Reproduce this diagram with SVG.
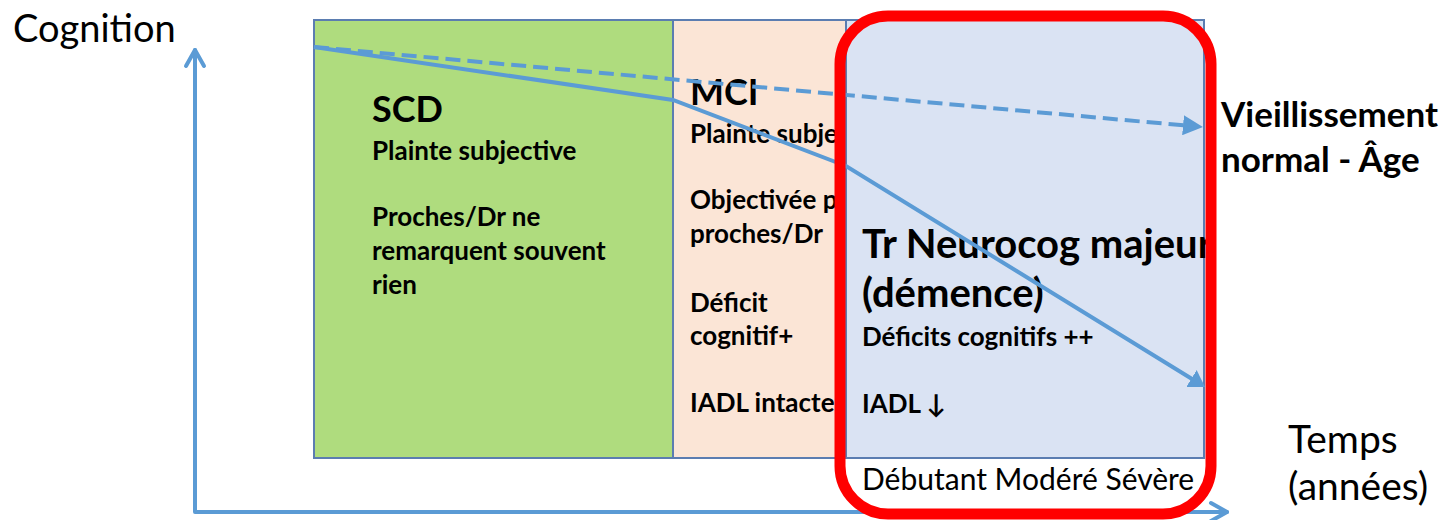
<svg xmlns="http://www.w3.org/2000/svg" width="1444" height="520" viewBox="0 0 1444 520">
<style>
.box{stroke:#5B7DB1;stroke-width:2}
.t{font-family:Lato,"Open Sans","Liberation Sans",sans-serif;fill:#000}
.b{font-weight:bold;font-size:26px}
.h{font-weight:bold;font-size:36px}
.h2{font-weight:bold;font-size:40px}
.side{font-weight:bold;font-size:35px}
.r{font-weight:normal}
.trend{fill:none;stroke:#5B9BD5;stroke-width:4}
.axis{fill:none;stroke:#5B9BD5;stroke-width:4;stroke-linecap:round;stroke-linejoin:round}
</style>
<defs>
<marker id="tri" viewBox="0 0 20 20" refX="8" refY="10" markerWidth="20" markerHeight="20" markerUnits="userSpaceOnUse" orient="auto">
<path d="M0,0 L20,10 L0,20 z" fill="#5B9BD5"/>
</marker>
<marker id="tri2" viewBox="0 0 16 20" refX="8" refY="10" markerWidth="16" markerHeight="20" markerUnits="userSpaceOnUse" orient="auto">
<path d="M0,0 L16,10 L0,20 z" fill="#5B9BD5"/>
</marker>
</defs>
<rect width="1444" height="520" fill="#fff"/>
<g id="scd">
<rect class="box" x="314" y="20" width="359" height="438" fill="#AFDC7E"/>
<text class="t h" x="372" y="122">SCD</text>
<text class="t b" x="372" y="160">Plainte subjective</text>
<text class="t b" x="372" y="226">Proches/Dr ne</text>
<text class="t b" x="372" y="260">remarquent souvent</text>
<text class="t b" x="372" y="294">rien</text>
</g>
<g id="mci">
<rect class="box" x="673" y="20" width="173" height="438" fill="#FBE5D6"/>
<text class="t h" x="690" y="105">MCI</text>
<text class="t b" x="690" y="143">Plainte subjective</text>
<text class="t b" x="690" y="209">Objectivée par</text>
<text class="t b" x="690" y="243">proches/Dr</text>
<text class="t b" x="690" y="312">Déficit</text>
<text class="t b" x="690" y="345">cognitif+</text>
<text class="t b" x="690" y="412">IADL intactes</text>
</g>
<g id="demence">
<rect class="box" x="846" y="20" width="358" height="438" fill="#DAE3F3"/>
<text class="t h2" x="862" y="258">Tr Neurocog majeur</text>
<text class="t h2" x="862" y="307">(démence)</text>
<text class="t b" x="862" y="346">Déficits cognitifs ++</text>
<text class="t b" x="862" y="413">IADL ↓</text>
<text class="t r" x="862" y="490" font-size="30">Débutant Modéré Sévère</text>
</g>
<g id="labels">
<text class="t r" x="13" y="42" font-size="38">Cognition</text>
<text class="t side" x="1221" y="127">Vieillissement</text>
<text class="t side" x="1221" y="172">normal - Âge</text>
<text class="t r" x="1288" y="453" font-size="39">Temps</text>
<text class="t r" x="1288" y="500" font-size="39">(années)</text>
</g>
<g id="connectors">
<path class="trend" d="M314,47 L1191,126" stroke-dasharray="15 7" marker-end="url(#tri)"/>
<path class="trend" d="M314,47 L673,100 L846,166 L1198.2,382.8" stroke-width="3.5" marker-end="url(#tri2)"/>
<path class="axis" d="M195,50 L195,512 L1227,512"/>
<path class="axis" d="M186,66 L195,50 L204,66"/>
<path class="axis" d="M1211,503 L1227,512 L1211,521"/>
</g>
<g id="highlight">
<rect x="840" y="16" width="371" height="498" rx="48" fill="none" stroke="#FF0000" stroke-width="11"/>
</g>
</svg>
